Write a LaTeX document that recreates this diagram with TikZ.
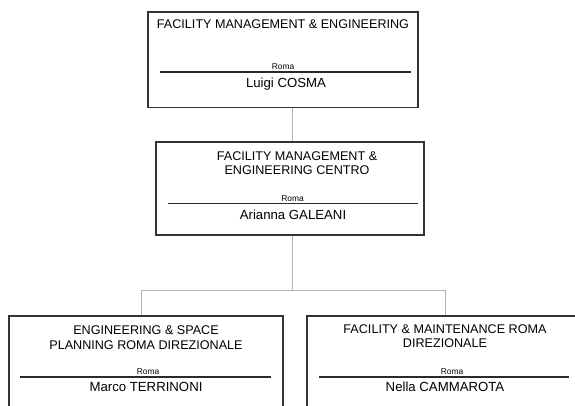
\documentclass[tikz,border=0pt]{standalone}
\usepackage{fontspec}
\setmainfont{Liberation Sans}
\definecolor{boxc}{HTML}{333333}
\definecolor{connc}{HTML}{B4B4B4}
\definecolor{rulec}{HTML}{2A2A2A}
\begin{document}
\begin{tikzpicture}[x=1pt,y=-1pt,
  orgbox/.style={draw=boxc, line width=1.1pt, fill=white, inner sep=0pt, minimum width=#1},
  ttl/.style={anchor=base, inner sep=0pt, font=\fontsize{12.6}{14}\selectfont},
  rm/.style={anchor=base, inner sep=0pt, font=\fontsize{8.4}{9}\selectfont},
  nm/.style={anchor=base, inner sep=0pt, font=\fontsize{13.2}{15}\selectfont},
  sep/.style={draw=rulec, line width=1.7pt},
  conn/.style={draw=connc, line width=1pt}]
\useasboundingbox (0,0) rectangle (575,405);
\clip (0,0) rectangle (575,405);
\fill[white] (0,0) rectangle (575,405);
% boxes
\node[orgbox=270pt, minimum height=95.3pt] (top) at (283,59.65) {};
\node[orgbox=268pt, minimum height=93pt] (mid) at (290,188.5) {};
\node[orgbox=274pt, minimum height=100pt] (lb) at (146,366) {};
\node[orgbox=274pt, minimum height=100pt] (rb) at (444,366) {};
% connector routing points
\coordinate (trunk) at (292.7,0);
\coordinate (bus) at (0,290.7);
\coordinate (lx) at (141,0);
\coordinate (rx) at (445,0);
\draw[conn] (top.south -| trunk) -- (mid.north -| trunk);
\draw[conn] (mid.south -| trunk) -- (bus -| trunk);
\draw[conn] (lb.north -| lx) -- (bus -| lx) -- (bus -| rx) -- (rb.north -| rx);
% top box
\node[ttl] (t1) at (283,28.3) {FACILITY MANAGEMENT \& ENGINEERING};
\node[rm] (t2) at (283,69.3) {Roma};
\draw[sep] (160,72.3) coordinate (ta) -- (411,72.3) coordinate (tb);
\node[nm] (t3) at (286,87.7) {Luigi COSMA};
% middle box
\node[ttl] (m1) at (297,160) {FACILITY MANAGEMENT \&};
\node[ttl] (m2) at (297,174) {ENGINEERING CENTRO};
\node[rm] (m3) at (292.5,201.3) {Roma};
\draw[sep] (168,203.5) coordinate (ma) -- (418,203.5) coordinate (mb);
\node[nm] (m4) at (293,219) {Arianna GALEANI};
% left box
\node[ttl] (l1) at (146,334) {ENGINEERING \& SPACE};
\node[ttl] (l2) at (146,349) {PLANNING ROMA DIREZIONALE};
\node[rm] (l3) at (148,374) {Roma};
\draw[sep] (20,376.8) coordinate (la) -- (271,376.8) coordinate (lb2);
\node[nm] (l4) at (146,391.7) {Marco TERRINONI};
% right box
\node[ttl] (r1) at (445,333.5) {FACILITY \& MAINTENANCE ROMA};
\node[ttl] (r2) at (445,347.5) {DIREZIONALE};
\node[rm] (r3) at (452,374) {Roma};
\draw[sep] (319,377) coordinate (ra) -- (569,377) coordinate (rb2);
\node[nm] (r4) at (445,391.5) {Nella CAMMAROTA};
\end{tikzpicture}
\end{document}
